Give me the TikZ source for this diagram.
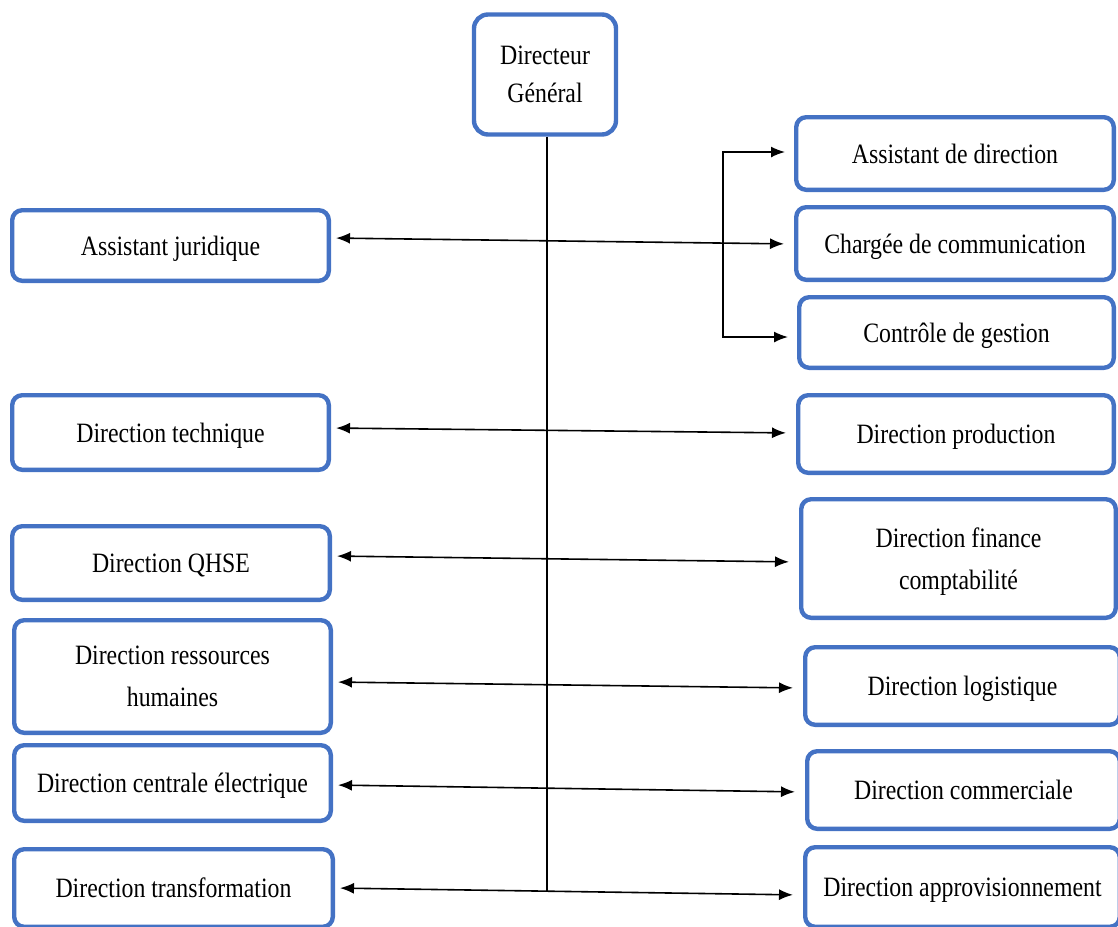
\documentclass[tikz,border=0pt]{standalone}
\usepackage{fontspec}
\setmainfont{Liberation Serif}[FakeStretch=0.85]
\usetikzlibrary{arrows.meta}
\definecolor{bleu}{RGB}{68,114,196}

\tikzset{
 poste/.style={draw=bleu, line width=2.2pt, rounded corners=5pt, fill=white, align=center, inner sep=1pt, text depth=0pt, font=\fontsize{14}{21}\selectfont},
 lien/.style={{Latex[length=7pt,width=5.5pt]}-{Latex[length=7pt,width=5.5pt]}, line width=.8pt, shorten <=2.5pt, shorten >=5pt},
 fleche/.style={-{Latex[length=7pt,width=5.5pt]}, line width=.8pt, shorten >=4.5pt}
}

\begin{document}
\begin{tikzpicture}[x=.5pt,y=-.5pt]
 \useasboundingbox (0,0) rectangle (1118,926);

 % le directeur
 \node[poste, rounded corners=7pt, minimum width=71pt, minimum height=60pt, font=\fontsize{14}{19}\selectfont] (dg) at (545,74.5) {Directeur\\Général};

 % colonne de gauche
 \node[poste, minimum width=158.3pt, minimum height=35.3pt] (aj) at (170.5,245.5) {Assistant juridique};
 \node[poste, minimum width=158.3pt, minimum height=37.3pt] (dt) at (170.5,432.5) {Direction technique};
 \node[poste, minimum width=158.8pt, minimum height=36.8pt] (qhse) at (171,563) {Direction QHSE};
 \node[poste, minimum width=158.3pt, minimum height=56.3pt] (drh) at (172.5,676.5) {Direction ressources\\humaines};
 \node[poste, minimum width=158.3pt, minimum height=37.8pt] (dce) at (172.5,783) {Direction centrale électrique};
 \node[poste, minimum width=159.3pt, minimum height=38.8pt] (dtr) at (173.5,888) {Direction transformation};

 % colonne de droite
 \node[poste, minimum width=158.8pt, minimum height=36.3pt] (ad) at (955,153.5) {Assistant de direction};
 \node[poste, minimum width=158.8pt, minimum height=36.3pt] (cc) at (955,243.5) {Chargée de communication};
 \node[poste, minimum width=157.3pt, minimum height=35.3pt] (cg) at (956.5,332.5) {Contrôle de gestion};
 \node[poste, minimum width=157.8pt, minimum height=38.8pt] (dp) at (956,434) {Direction production};
 \node[poste, minimum width=157.3pt, minimum height=59.3pt] (dfc) at (958.5,558.5) {Direction finance\\comptabilité};
 \node[poste, minimum width=157.3pt, minimum height=38.8pt] (dl) at (962.5,686) {Direction logistique};
 \node[poste, minimum width=156.3pt, minimum height=38.8pt] (dcom) at (963.5,790) {Direction commerciale};
 \node[poste, minimum width=157.3pt, minimum height=39.8pt] (da) at (962.5,887) {Direction approvisionnement};

 % le tronc vertical
 \coordinate (bas) at (547,891);
 \draw[line width=.8pt] ([xshift=1pt]dg.south) -- (bas);

 % liaisons gauche - droite
 \draw[lien] ([yshift=3.75pt]aj.east) -- ([yshift=-.25pt]cc.west);
 \draw[lien] ([yshift=2.25pt]dt.east) -- ([yshift=.5pt]dp.west);
 \draw[lien] ([yshift=3.5pt]qhse.east) -- ([yshift=-1.75pt]dfc.west);
 \draw[lien] ([yshift=-2.75pt]drh.east) -- ([yshift=-1pt]dl.west);
 \draw[lien] ([yshift=-1pt]dce.east) -- ([yshift=-1pt]dcom.west);
 \draw[lien] (dtr.east) -- ([yshift=-4pt]da.west);

 % le crochet vers les assistants
 \coordinate (crochet) at (723,244);
 \draw[fleche] (crochet) |- ([yshift=.75pt]ad.west);
 \draw[fleche] (crochet) |- ([yshift=-2.25pt]cg.west);
\end{tikzpicture}
\end{document}
